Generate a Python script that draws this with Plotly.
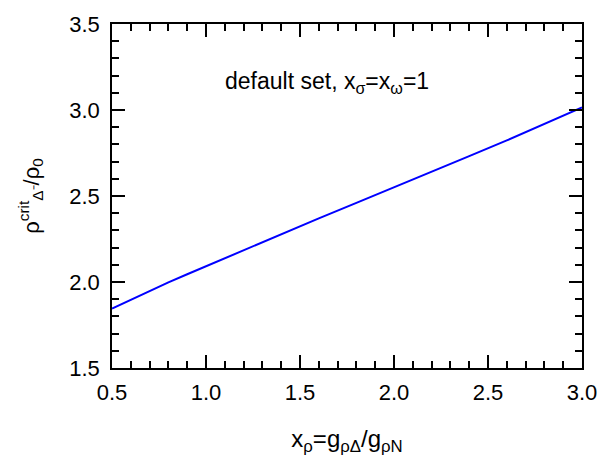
import plotly.graph_objects as go

x_rho = [0.5, 0.6, 0.7, 0.8, 0.9, 1.0, 1.2, 1.4, 1.6, 1.8, 2.0, 2.2, 2.4, 2.6, 2.8, 3.0]
rho_crit = [1.846, 1.897, 1.948, 1.998, 2.045, 2.092, 2.186, 2.280, 2.370, 2.460,
            2.552, 2.642, 2.732, 2.823, 2.917, 3.015]

x_ticks = [0.5, 1.0, 1.5, 2.0, 2.5, 3.0]
x_ticklabels = ["0.5", "1.0", "1.5", "2.0", "2.5", "3.0"]
y_ticks = [1.5, 2.0, 2.5, 3.0, 3.5]
y_ticklabels = ["1.5", "2.0", "2.5", "3.0", "3.5"]

font_family = "Liberation Sans, Arial, sans-serif"

fig = go.Figure()
fig.add_trace(go.Scatter(x=x_rho, y=rho_crit, mode="lines",
                         line=dict(color="#0000ff", width=2), showlegend=False))

axis_common = dict(
    showline=True, linecolor="black", linewidth=1.5, mirror="ticks",
    ticks="inside", ticklen=13, tickwidth=1.5, tickcolor="black",
    showgrid=False, zeroline=False,
    tickfont=dict(family=font_family, size=22, color="black"),
)

fig.update_xaxes(range=[0.5, 3.0], tickvals=x_ticks, ticktext=x_ticklabels,
                 minor=dict(dtick=0.1, ticks="inside", ticklen=7, tickwidth=1.5, tickcolor="black"),
                 title=dict(text="x<sub>ρ</sub>=g<sub>ρΔ</sub>/g<sub>ρN</sub>",
                            font=dict(family=font_family, size=24, color="black"), standoff=26),
                 ticklabelstandoff=4,
                 **axis_common)
fig.update_yaxes(range=[1.5, 3.5], tickvals=y_ticks, ticktext=y_ticklabels,
                 minor=dict(dtick=0.1, ticks="inside", ticklen=7, tickwidth=1.5, tickcolor="black"),
                 title=dict(text="ρ<sup>crit</sup><sub>Δ⁻</sub>/ρ<sub>0</sub>",
                            font=dict(family=font_family, size=22, color="black"), standoff=24),
                 ticklabelstandoff=6,
                 **axis_common)

fig.add_annotation(x=1.09, y=3.16, xref="x", yref="y",
                   text="default set, x<sub>σ</sub>=x<sub>ω</sub>=1",
                   showarrow=False, xanchor="left",
                   font=dict(family=font_family, size=23, color="black"))

fig.update_layout(width=609, height=460, margin=dict(l=112, r=17, t=17, b=90),
                  plot_bgcolor="white", paper_bgcolor="white")

fig.write_html("out.html")
